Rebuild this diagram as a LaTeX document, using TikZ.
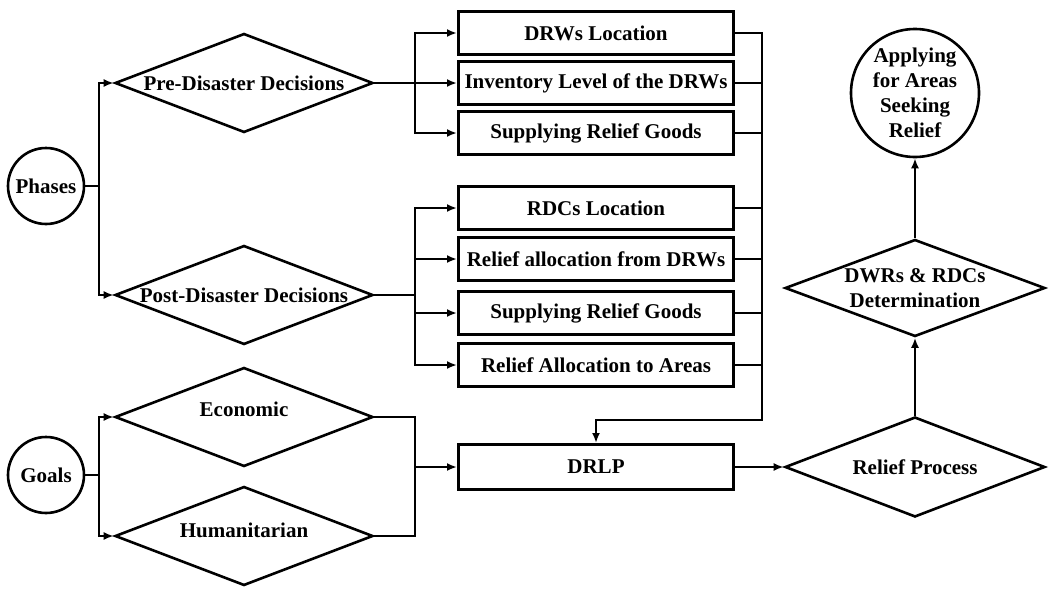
\documentclass[tikz,border=0pt]{standalone}
\usepackage{fontspec}
\setmainfont{Liberation Serif}
\usepackage{tikz}
\usetikzlibrary{arrows.meta}
\usetikzlibrary{calc}
\usetikzlibrary{shapes}

\tikzset{
  phase/.style={circle, draw, line width=2.6pt, minimum size=76pt, inner sep=0pt},
  decision/.style={diamond, draw, line width=2.6pt, aspect=2.6, minimum width=258pt, minimum height=99pt, inner sep=0pt},
  task/.style={rectangle, draw, line width=3pt, minimum width=275pt, minimum height=43pt, inner sep=2pt},
  link/.style={line width=2.6pt},
  flow/.style={link, -{Latex[length=10pt,width=8pt]}},
}

\begin{document}
\begin{tikzpicture}[x=1pt, y=-1pt, font=\bfseries\fontsize{21}{25}\selectfont]

  \useasboundingbox (0,0) rectangle (1049,597);

  % Phases and goals
  \node[phase] (phases) at (46,186) {Phases};
  \node[phase] (goals) at (46,475) {Goals};

  \node[decision] (pre) at (244,83) {Pre-Disaster Decisions};
  \node[decision] (post) at (244,295) {Post-Disaster Decisions};
  \node[decision, label={[yshift=8pt]center:Economic}] (econ) at (244,417) {};
  \node[decision, label={[yshift=6pt]center:Humanitarian}] (human) at (244,536) {};

  % Decision boxes
  \node[task] (drwloc) at (596,33) {DRWs Location};
  \node[task] (inv) at (596,83) {Inventory Level of the DRWs};
  \node[task] (supA) at (596,133) {Supplying Relief Goods};
  \node[task] (rdcloc) at (596,208) {RDCs Location};
  \node[task] (allocA) at (596,259) {Relief allocation from DRWs};
  \node[task] (supB) at (596,313) {Supplying Relief Goods};
  \node[task] (allocB) at (596,365) {Relief Allocation to Areas};
  \node[task, minimum height=45pt] (drlp) at (596,467) {DRLP};

  % Right column
  \node[decision, minimum width=260pt, minimum height=100pt] (relief) at (915,467) {Relief Process};
  \node[decision, minimum width=260pt, minimum height=97pt, align=center] (dwrs) at (915,288) {DWRs \& RDCs\\Determination};
  \node[phase, minimum size=128pt, align=center] (apply) at (915,93) {Applying\\for Areas\\Seeking\\Relief};

  % Junctions
  \coordinate (jPh) at (99,186);
  \coordinate (jPre) at (415,83);
  \coordinate (jPost) at (415,295);
  \coordinate (jCol) at (762,420);
  \coordinate (jG) at (99,475);
  \coordinate (jGoal) at (415,467);

  \draw[link] (phases) -- (jPh);
  \draw[flow] (jPh) |- (pre);
  \draw[flow] (jPh) |- (post);

  \draw[link] (pre) -- (jPre);
  \foreach \t in {drwloc,inv,supA}
    \draw[flow] (jPre) |- (\t);

  \draw[link] (post) -- (jPost);
  \foreach \t in {rdcloc,allocA,supB,allocB}
    \draw[flow] (jPost) |- (\t);

  \draw[flow] (drwloc) -| (jCol) -| (drlp);
  \foreach \t in {inv,supA,rdcloc,allocA,supB,allocB}
    \draw[link] (\t.east) -- (\t.east -| jCol);

  \draw[link] (goals) -- (jG);
  \draw[flow] (jG) |- (econ);
  \draw[flow] (jG) |- (human);
  \draw[link] (econ) -| (jGoal);
  \draw[link] (human) -| (jGoal);
  \draw[flow] (jGoal) -- (drlp);

  \draw[flow] (drlp) -- (relief);
  \draw[flow] (relief) -- (dwrs);
  \draw[flow] (dwrs) -- (apply);

\end{tikzpicture}
\end{document}
